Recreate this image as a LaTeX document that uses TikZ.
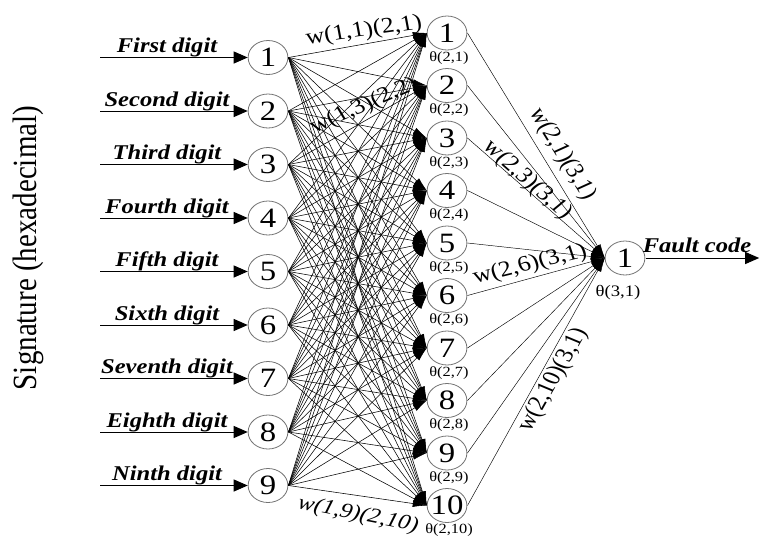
\documentclass[tikz,border=0pt]{standalone}
\usepackage{fontspec}
\setmainfont{Liberation Serif}
\usetikzlibrary{arrows.meta}
\begin{document}
\begin{tikzpicture}[x=0.854701pt, y=-1pt, xscale=1.17,
  every node/.style={transform shape},
  unit/.style={circle, draw=black!55, line width=0.8pt, fill=white,
    minimum size=34pt, inner sep=0pt, font=\fontsize{28}{28}\selectfont},
  link/.style={line width=0.55pt, -{Latex[length=14pt,width=7pt]}},
  feed/.style={line width=1pt, -{Triangle[length=14pt,width=12pt]}},
  inlabel/.style={anchor=base, font=\fontsize{21}{21}\selectfont\bfseries\itshape},
  bias/.style={font=\fontsize{14}{14}\selectfont},
  weight/.style={font=\fontsize{22}{22}\selectfont}]
\useasboundingbox (0,0) rectangle (760,547);

% input layer
\foreach \i/\name in {1/First,2/Second,3/Third,4/Fourth,5/Fifth,6/Sixth,7/Seventh,8/Eighth,9/Ninth}{
  \pgfmathsetmacro{\yy}{57.5+(\i-1)*53.5}
  \node[unit] (in\i) at (268,\yy) {\i};
  \coordinate (src\i) at (100,\yy);
  \draw[feed] (src\i) -- (in\i.west);
  \node[inlabel] (lab\i) at (167,\yy-5) {\name\ digit};
}

% hidden layer
\foreach \j in {1,...,10}{
  \pgfmathsetmacro{\yy}{33+(\j-1)*52.5}
  \node[unit] (hid\j) at (447,\yy) {\j};
  \node[bias] (th\j) at (449,\yy+25) {θ(2,\j)};
}

% output layer
\node[unit] (out) at (625,258) {1};
\node[bias, font=\fontsize{16}{16}\selectfont] (thout) at (618,293) {θ(3,1)};
\coordinate (sink) at (759,258);
\draw[feed] (out.east) -- (sink);
\node[inlabel] (flab) at (697,252) {Fault code};

% connections input -> hidden
\foreach \i in {1,...,9}{
  \foreach \j in {1,...,10}{
    \draw[link] (in\i.east) -- (hid\j.west);
  }
}
% connections hidden -> output
\foreach \j in {1,...,10}{
  \draw[link, line width=0.45pt] (hid\j.east) -- (out.west);
}

% weight labels
\node[weight, rotate=9] (w11) at (364,31) {w(1,1)(2,1)};
\node[weight, rotate=27] (w13) at (364,106) {w(1,3)(2,2)};
\node[weight, rotate=-13, font=\fontsize{21}{21}\selectfont\itshape] (w19) at (358,515) {w(1,9)(2,10)};
\node[weight, rotate=-62] (v1) at (562,154) {w(2,1)(3,1)};
\node[weight, rotate=-46] (v3) at (527,180) {w(2,3)(3,1)};
\node[weight, rotate=16] (v6) at (530,265) {w(2,6)(3,1)};
\node[weight, rotate=64] (v10) at (553,380) {w(2,10)(3,1)};

% side caption
\node[rotate=90, font=\fontsize{29}{29}\selectfont] (sig) at (28,248) {Signature (hexadecimal)};
\end{tikzpicture}
\end{document}
